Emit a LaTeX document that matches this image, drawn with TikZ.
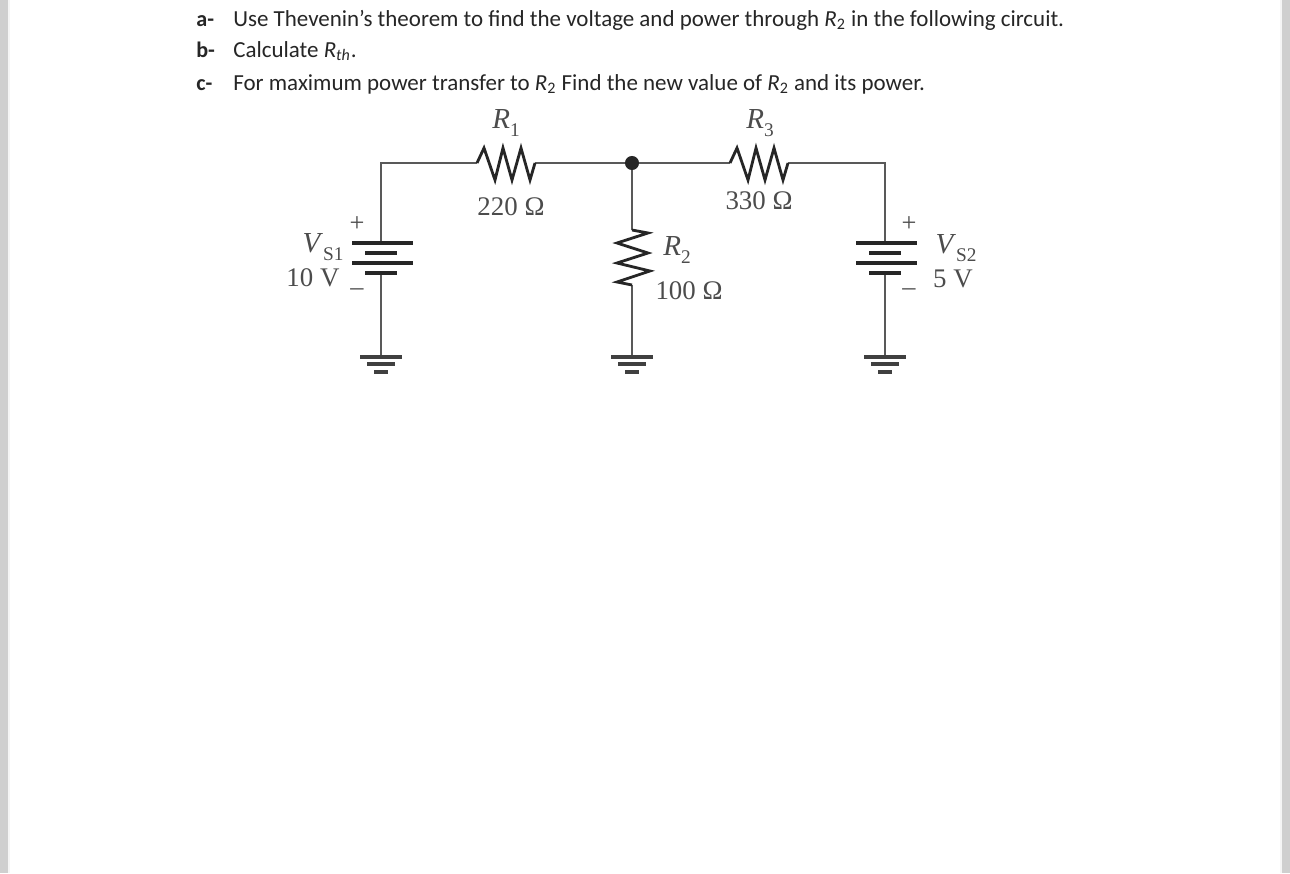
\documentclass[tikz,border=0pt]{standalone}
\usepackage{fontspec}
\setmainfont{Carlito}
\newfontfamily\figfont{Liberation Serif}
\newcommand{\lowsub}[1]{\raisebox{-0.28em}{\fontsize{11}{12}\selectfont #1}}
\begin{document}
\begin{tikzpicture}[x=0.02cm,y=-0.02cm]

\tikzset{line/.style = {anchor=base west,inner sep=0,text=black!85,font=\fontsize{13.07}{16}\selectfont}}
\tikzset{tag/.style = {line,font=\fontsize{12.6}{16}\selectfont\bfseries}}
\tikzset{value/.style = {inner sep=0,text=black!70,font=\figfont\fontsize{15.3}{17}\selectfont}}
\tikzset{symbol/.style = {inner sep=0,text=black!70,font=\figfont\fontsize{16.5}{17}\selectfont}}
\tikzset{sign/.style = {inner sep=0,text=black!70,font=\figfont\fontsize{15}{17}\selectfont}}
\tikzset{wire/.style = {draw=black!65,line width=1.3pt}}
\tikzset{zigzag/.style = {draw=black!85,line width=1.6pt,line join=miter}}
\tikzset{plate/.style = {draw=black!85,line width=2pt}}
\tikzset{earth/.style = {draw=black!75,line width=1.8pt}}
\tikzset{dot/.style = {circle,fill=black!85,inner sep=0,minimum size=8pt}}

\useasboundingbox (0,0) rectangle (1290,873);
\fill[black!19] (0,0) rectangle (1290,873);
\fill[black!4] (8,0) rectangle (1282,873);
\fill[white] (10,0) rectangle (1280,873);

%question
\node[tag] (qa) at (196,26) {a-};
\node[tag] (qb) at (196,57) {b-};
\node[tag] (qc) at (196,90) {c-};
\node[line] (ta) at (233,26) {Use Thevenin’s theorem to find the voltage and power through \textit{R}\textsubscript{2} in the following circuit.};
\node[line] (tb) at (233,57) {Calculate \textit{R}\textsubscript{\textit{th}}.};
\node[line] (tc) at (233,90) {For maximum power transfer to \textit{R}\textsubscript{2} Find the new value of \textit{R}\textsubscript{2} and its power.};

%points
\node[dot] (mid) at (632,163) {};
\coordinate (left) at (381,163);
\coordinate (right) at (885,163);
\coordinate (r1a) at (477,163);
\coordinate (r1b) at (535,163);
\coordinate (r3a) at (730,163);
\coordinate (r3b) at (788,163);
\coordinate (r2a) at (632,230);
\coordinate (r2b) at (632,285);
\coordinate (batla) at (381,243);
\coordinate (batlb) at (381,273);
\coordinate (batra) at (885,243);
\coordinate (batrb) at (885,273);
\coordinate (gndl) at (381,357);
\coordinate (gndm) at (632,357);
\coordinate (gndr) at (885,357);

%wires
\draw[wire] (batla) -- (left) -- (r1a);
\draw[wire] (r1b) -- (mid) -- (r3a);
\draw[wire] (r3b) -- (right) -- (batra);
\draw[wire] (mid) -- (r2a);
\draw[wire] (r2b) -- (gndm);
\draw[wire] (batlb) -- (gndl);
\draw[wire] (batrb) -- (gndr);

%resistors
\draw[zigzag] (r1a) -- ++(7,-15) -- ++(11,32) -- ++(8,-32) -- ++(9,32) -- ++(9,-32) -- ++(9,32) -- (r1b);
\draw[zigzag] (r3a) -- ++(7,-15) -- ++(11,32) -- ++(8,-32) -- ++(9,32) -- ++(9,-32) -- ++(9,32) -- (r3b);
\draw[zigzag] (r2a) -- ++(16,3) -- ++(-31,10) -- ++(31,10) -- ++(-31,10) -- ++(33,8) -- ++(-33,11) -- (r2b);

%batteries and grounds
\foreach \x in {381,885}{
  \draw[plate] (\x-29,243) -- (\x+32,243);
  \draw[plate] (\x-16,253) -- (\x+16,253);
  \draw[plate] (\x-29,263) -- (\x+32,263);
  \draw[plate] (\x-16,273) -- (\x+16,273);
}
\foreach \x in {381,632,885}{
  \draw[earth] (\x-21,357) -- (\x+21,357);
  \draw[earth] (\x-14,364) -- (\x+14,364);
  \draw[earth] (\x-7,372) -- (\x+7,372);
}

%labels
\node[symbol] (lr1) at (506,123) {\textit{R}\lowsub{1}};
\node[symbol] (lr3) at (760,123) {\textit{R}\lowsub{3}};
\node[symbol] (lr2) at (677,250) {\textit{R}\lowsub{2}};
\node[value] (v1) at (511,207) {220 Ω};
\node[value] (v3) at (759,201) {330 Ω};
\node[value] (v2) at (689,291) {100 Ω};
\node[symbol] (ls1) at (323,247) {\textit{V}\lowsub{S1}};
\node[symbol] (ls2) at (956,248) {\textit{V}\lowsub{S2}};
\node[value] (e1) at (313,278) {10 V};
\node[value] (e2) at (953,279) {5 V};
\node[sign] (p1) at (357,224) {+};
\node[sign] (m1) at (357,292) {–};
\node[sign] (p2) at (909,224) {+};
\node[sign] (m2) at (909,292) {–};

\end{tikzpicture}
\end{document}
